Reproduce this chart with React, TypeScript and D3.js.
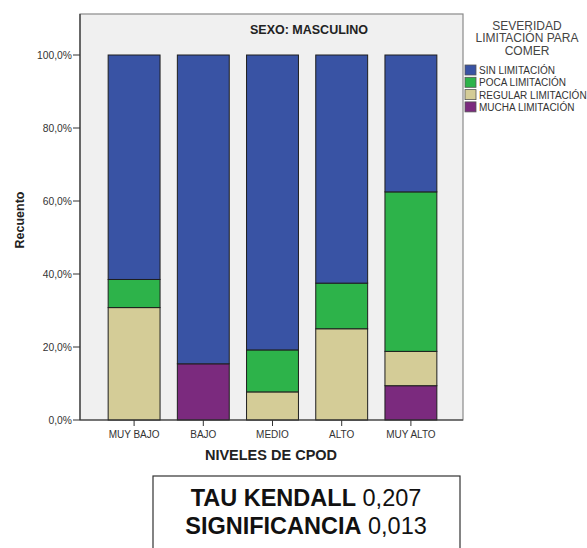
import React from "react";
import * as d3 from "d3";

const categories = ["MUY BAJO", "BAJO", "MEDIO", "ALTO", "MUY ALTO"];
const seriesNames = ["MUCHA LIMITACIÓN", "REGULAR LIMITACIÓN", "POCA LIMITACIÓN", "SIN LIMITACIÓN"];
const mucha = [0, 15.4, 0, 0, 9.4];
const regular = [30.8, 0, 7.7, 25.0, 9.4];
const poca = [7.7, 0, 11.5, 12.5, 43.7];
const sin = [61.5, 84.6, 80.8, 62.5, 37.5];
const seriesColors = ["#7b2a7e", "#d4cc97", "#2db34a", "#3953a4"];
const yTicks = [0, 20, 40, 60, 80, 100];
const legendOrder = ["SIN LIMITACIÓN", "POCA LIMITACIÓN", "REGULAR LIMITACIÓN", "MUCHA LIMITACIÓN"];

const W = 587, H = 548;
const plot = { left: 80, top: 14, right: 463, bottom: 420 };

export default function App() {
  const x = d3.scaleBand<string>().domain(categories).range([99.5, 445.5]).paddingInner(0.25).paddingOuter(0.125);
  const y = d3.scaleLinear().domain([0, 100]).range([420, 55]);
  const rows = categories.map((c, i) => ({ cat: c, m: mucha[i], r: regular[i], p: poca[i], s: sin[i] }));
  const stack = d3.stack<any>().keys(["m", "r", "p", "s"])(rows);
  const font = "Liberation Sans, Arial, sans-serif";
  const fmt = (v: number) => v.toFixed(1).replace(".", ",") + "%";
  const colorByName: Record<string, string> = {};
  seriesNames.forEach((n, i) => (colorByName[n] = seriesColors[i]));

  return (
    <svg width={W} height={H} style={{ position: "absolute", left: 0, top: 0 }} fontFamily={font}>
      <rect x={0} y={0} width={W} height={H} fill="#fff" />
      <rect x={plot.left} y={plot.top} width={plot.right - plot.left} height={plot.bottom - plot.top} fill="#f0f0f0" stroke="#8a8a8a" strokeWidth={1.2} />
      <text x={309} y={34} textAnchor="middle" fontSize={12.5} fontWeight="bold" fill="#222">SEXO: MASCULINO</text>
      {stack.map((layer, li) =>
        layer.map((d, i) => {
          const h = y(d[0]) - y(d[1]);
          if (h <= 0) return null;
          return (
            <rect key={li + "-" + i} x={x(categories[i])} y={y(d[1])} width={x.bandwidth()} height={h}
              fill={seriesColors[li]} stroke="#1e1e1e" strokeWidth={1} />
          );
        })
      )}
      <line x1={plot.left} x2={plot.left} y1={plot.top} y2={plot.bottom} stroke="#333" strokeWidth={1.2} />
      <line x1={plot.left} x2={plot.right} y1={plot.bottom} y2={plot.bottom} stroke="#333" strokeWidth={1.2} />
      {yTicks.map((t) => (
        <g key={t}>
          <line x1={plot.left - 7} x2={plot.left} y1={y(t)} y2={y(t)} stroke="#333" />
          <text x={plot.left - 8} y={y(t) + 3.5} textAnchor="end" fontSize={10.3} fill="#333">{fmt(t)}</text>
        </g>
      ))}
      {categories.map((c) => {
        const cx = (x(c) as number) + x.bandwidth() / 2;
        return (
          <g key={c}>
            <line x1={cx} x2={cx} y1={plot.bottom} y2={plot.bottom + 6} stroke="#333" />
            <text x={cx} y={438} textAnchor="middle" fontSize={10} fill="#333">{c}</text>
          </g>
        );
      })}
      <text x={271} y={460} textAnchor="middle" fontSize={14.5} fontWeight="bold" fill="#222">NIVELES DE CPOD</text>
      <text transform="translate(24,220) rotate(-90)" textAnchor="middle" fontSize={12.5} fontWeight="bold" fill="#222">Recuento</text>
      <g fontSize={12} fill="#444" textAnchor="middle">
        <text x={527} y={29.5}>SEVERIDAD</text>
        <text x={527} y={42}>LIMITACIÓN PARA</text>
        <text x={527} y={54.5}>COMER</text>
      </g>
      {legendOrder.map((n, i) => (
        <g key={n}>
          <rect x={465} y={65 + i * 12.3} width={11} height={10} fill={colorByName[n]} stroke="#555" strokeWidth={0.8} />
          <text x={479} y={74 + i * 12.3} fontSize={10} fill="#333">{n}</text>
        </g>
      ))}
      <rect x={153} y={476} width={307} height={90} fill="#fff" stroke="#333" strokeWidth={1.2} />
      <text x={306} y={506} textAnchor="middle" fontSize={23.5} fill="#111">
        <tspan fontWeight="bold">TAU KENDALL</tspan> 0,207
      </text>
      <text x={306} y={534} textAnchor="middle" fontSize={23.5} fill="#111">
        <tspan fontWeight="bold">SIGNIFICANCIA</tspan> 0,013
      </text>
    </svg>
  );
}
